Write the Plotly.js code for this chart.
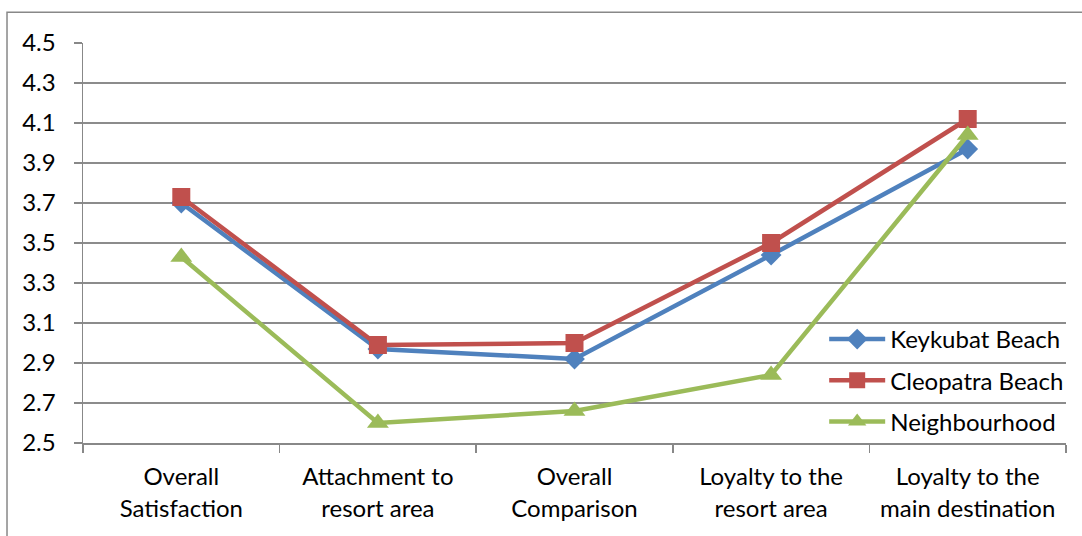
<!DOCTYPE html>
<html>
<head>
<meta charset="utf-8">
<script src="https://cdn.plot.ly/plotly-3.0.1.min.js"></script>
<style>
  html, body { margin: 0; padding: 0; background: #ffffff; }
  #chart { width: 1082px; height: 536px; }
</style>
</head>
<body>
<div id="chart"></div>
<script>
const categories = [
  "Overall<br>Satisfaction",
  "Attachment to<br>resort area",
  "Overall<br>Comparison",
  "Loyalty to the<br>resort area",
  "Loyalty to the<br>main destination"
];
const seriesNames = ["Keykubat Beach", "Cleopatra Beach", "Neighbourhood"];
const keykubat = [3.70, 2.97, 2.92, 3.44, 3.97];
const cleopatra = [3.73, 2.99, 3.00, 3.50, 4.12];
const neighbourhood = [3.43, 2.60, 2.66, 2.84, 4.04];
const yTicks = [2.5, 2.7, 2.9, 3.1, 3.3, 3.5, 3.7, 3.9, 4.1, 4.3, 4.5];

const FONT = "Lato, 'Open Sans', sans-serif";
const styles = [
  {color: "#4F81BD", symbol: "diamond", size: 16},
  {color: "#C0504D", symbol: "square", size: 18},
  {color: "#9BBB59", symbol: "triangle-up", size: 19}
];
const values = [keykubat, cleopatra, neighbourhood];

const traces = values.map((v, i) => ({
  type: "scatter",
  mode: "lines+markers",
  x: categories,
  y: v,
  name: seriesNames[i],
  legendgroup: "g" + i,
  line: {color: styles[i].color, width: 4.5},
  marker: {color: styles[i].color, symbol: styles[i].symbol, size: styles[i].size}
}));

const layout = {
  width: 1082,
  height: 536,
  margin: {l: 83, r: 16, t: 43, b: 93},
  paper_bgcolor: "#ffffff",
  plot_bgcolor: "#ffffff",
  font: {family: FONT, size: 24, color: "#000000"},
  showlegend: true,
  legend: {
    x: 0.754, y: 0.315, xanchor: "left", yanchor: "top",
    bgcolor: "rgba(0,0,0,0)",
    font: {family: FONT, size: 24, color: "#000000"},
    traceorder: "grouped",
    tracegroupgap: 7,
    itemwidth: 56
  },
  xaxis: {
    type: "category",
    range: [-0.5, 4.5],
    showgrid: false,
    showline: true,
    linecolor: "#888888",
    linewidth: 1.5,
    ticks: "outside",
    tickson: "boundaries",
    ticklen: 8,
    tickcolor: "#888888",
    tickwidth: 1.5,
    ticklabelstandoff: 12,
    tickfont: {family: FONT, size: 24, color: "#000000"},
    zeroline: false,
    fixedrange: true
  },
  yaxis: {
    range: [2.5, 4.5],
    tickvals: yTicks,
    ticktext: yTicks.map(v => v.toFixed(1)),
    showgrid: true,
    gridcolor: "#8c8c8c",
    gridwidth: 1.5,
    showline: true,
    linecolor: "#888888",
    linewidth: 1.5,
    ticks: "outside",
    ticklen: 8,
    tickcolor: "#888888",
    tickwidth: 1.5,
    ticklabelstandoff: 13,
    tickfont: {family: FONT, size: 24, color: "#000000"},
    zeroline: false,
    fixedrange: true
  },
  shapes: [{
    type: "rect", xref: "paper", yref: "paper", layer: "below",
    x0: -0.0773, x1: 1.1, y0: -0.5, y1: 1.077,
    line: {color: "#888888", width: 1.5},
    fillcolor: "rgba(0,0,0,0)"
  }]
};

Plotly.newPlot("chart", traces, layout, {displayModeBar: false, staticPlot: true});
</script>
</body>
</html>
